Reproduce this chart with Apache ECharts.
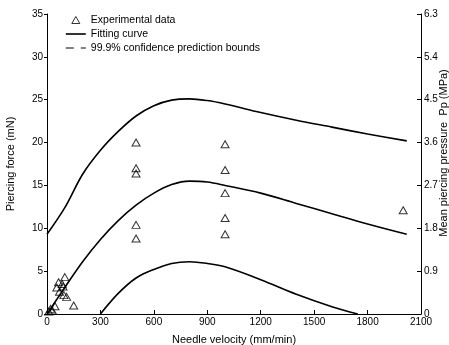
<!DOCTYPE html>
<html><head><meta charset="utf-8">
<script src="https://cdn.jsdelivr.net/npm/echarts@6/dist/echarts.min.js"></script>
<style>html,body{margin:0;padding:0;background:#fff}#c{width:449px;height:345px}</style>
</head><body><div id="c"></div>
<script>
// Experimental data (needle velocity mm/min, piercing force mN)
const expX = [10, 20, 30, 45, 55, 65, 70, 85, 90, 95, 100, 110, 150,
              500, 500, 500, 500, 500,
              1000, 1000, 1000, 1000, 1000,
              2000];
const expY = [0.3, 0.6, 0.4, 0.9, 3.1, 3.7, 2.6, 3.5, 3.2, 2.2, 4.3, 2.0, 1.0,
              20.0, 17.0, 16.4, 10.4, 8.8,
              19.8, 16.8, 14.1, 11.2, 9.3,
              12.1];
// Fitting curve
const fitX = [0, 100, 200, 300, 400, 500, 600, 700, 800, 900, 1000, 1200, 1400, 1600, 1800, 2020];
const fitY = [0, 3.1, 6.1, 8.7, 10.9, 12.7, 14.1, 15.1, 15.5, 15.4, 15.0, 14.1, 12.9, 11.7, 10.5, 9.3];
// Upper prediction bound
const upperX = [0, 100, 200, 300, 400, 500, 600, 700, 800, 900, 1000, 1200, 1400, 1600, 1800, 2020];
const upperY = [9.3, 12.4, 16.3, 19.1, 21.3, 23.1, 24.3, 24.95, 25.1, 24.9, 24.5, 23.5, 22.6, 21.8, 21.0, 20.2];
// Lower prediction bound
const lowerX = [300, 400, 500, 600, 700, 800, 900, 1000, 1200, 1400, 1600, 1745];
const lowerY = [0, 2.4, 4.2, 5.2, 5.9, 6.1, 5.9, 5.5, 4.0, 2.3, 0.85, 0];

const legendNames = ['Experimental data', 'Fitting curve', '99.9% confidence prediction bounds'];
const xAxisName = 'Needle velocity (mm/min)';
const yAxisName = 'Piercing force (mN)';
const y2AxisName = 'Mean piercing pressure  Pp (MPa)';

const pairs = (xs, ys) => xs.map((x, i) => [x, ys[i]]);
const FONT = 'Arial, "Liberation Sans", sans-serif';
const black = '#000';

const chart = echarts.init(document.getElementById('c'), null, {renderer: 'canvas'});
const lineCommon = {
  type: 'line', smooth: 0.35, showSymbol: false, symbol: 'none',
  lineStyle: {color: black, width: 1.6}, itemStyle: {color: black},
  silent: true, animation: false, clip: true, z: 2
};
const hiddenDot = {opacity: 0};
chart.setOption({
  animation: false,
  backgroundColor: '#fff',
  textStyle: {fontFamily: FONT, color: black},
  grid: {left: 47, right: 28, top: 14, bottom: 31, containLabel: false, outerBoundsMode: 'none'},
  legend: {
    orient: 'vertical', left: 65, top: 13, padding: 0,
    itemWidth: 20, itemHeight: 7, itemGap: 0,
    textStyle: {fontFamily: FONT, fontSize: 10.5, color: black, lineHeight: 14},
    selectedMode: false,
    data: [
      {name: legendNames[0], icon: 'path://M4,0L8,7L0,7Z',
       itemStyle: {color: '#fff', borderColor: black, borderWidth: 1}},
      {name: legendNames[1], itemStyle: hiddenDot, lineStyle: {width: 1.6, color: black}},
      {name: legendNames[2], itemStyle: hiddenDot, lineStyle: {type: [8, 7], width: 1, color: black}}
    ]
  },
  xAxis: {
    type: 'value', min: 0, max: 2100, interval: 300,
    name: xAxisName, nameLocation: 'middle', nameGap: 20, nameMoveOverlap: false,
    nameTextStyle: {fontFamily: FONT, fontSize: 11, color: black},
    axisLine: {show: true, onZero: false, lineStyle: {color: black, width: 1}},
    axisTick: {show: true, inside: true, length: 4, lineStyle: {color: black}},
    axisLabel: {fontFamily: FONT, fontSize: 10, color: black, margin: 3, formatter: v => String(v)},
    splitLine: {show: false}
  },
  yAxis: [{
    type: 'value', min: 0, max: 35, interval: 5, position: 'left',
    name: yAxisName, nameLocation: 'middle', nameGap: 31, nameRotate: 90, nameMoveOverlap: false,
    nameTextStyle: {fontFamily: FONT, fontSize: 11, color: black},
    axisLine: {show: true, onZero: false, lineStyle: {color: black, width: 1}},
    axisTick: {show: true, inside: false, length: 3, lineStyle: {color: black}},
    axisLabel: {fontFamily: FONT, fontSize: 10, color: black, margin: 4, formatter: v => String(v)},
    splitLine: {show: false}
  }, {
    type: 'value', min: 0, max: 6.3, interval: 0.9, position: 'right',
    name: y2AxisName, nameLocation: 'middle', nameGap: 17, nameRotate: 90, nameMoveOverlap: false,
    nameTextStyle: {fontFamily: FONT, fontSize: 11, color: black, padding: [0, 0, 0, 22]},
    axisLine: {show: true, onZero: false, lineStyle: {color: black, width: 1}},
    axisTick: {show: true, inside: true, length: 4, lineStyle: {color: black}},
    axisLabel: {fontFamily: FONT, fontSize: 10, color: black, margin: 3,
      formatter: v => (Math.abs(v) < 1e-9 ? '0' : v.toFixed(1))},
    splitLine: {show: false}
  }],
  series: [
    {
      name: legendNames[0], type: 'scatter', data: pairs(expX, expY),
      symbol: 'triangle', symbolSize: [8, 7],
      itemStyle: {color: 'rgba(255,255,255,0)', borderColor: black, borderWidth: 1},
      silent: true, z: 3
    },
    Object.assign({name: legendNames[1], data: pairs(fitX, fitY)}, lineCommon),
    Object.assign({name: legendNames[2], data: pairs(upperX, upperY)}, lineCommon),
    Object.assign({name: legendNames[2], data: pairs(lowerX, lowerY)}, lineCommon)
  ]
});
</script>
</body></html>
